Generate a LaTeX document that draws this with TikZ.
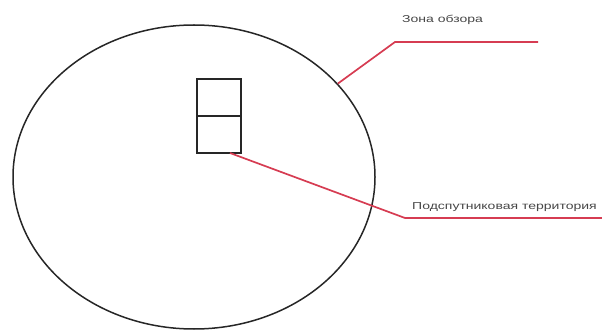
\documentclass[tikz,border=0pt]{standalone}
\usepackage{fontspec}
\setmainfont{Liberation Sans}
\usetikzlibrary{shapes.geometric,positioning}
\definecolor{lineRed}{RGB}{214,60,82}
\definecolor{textGray}{RGB}{70,70,70}

\begin{document}
\begin{tikzpicture}[x=1pt,y=-1pt,every node/.style={font=\fontsize{10}{12}\selectfont}]
\tikzset{zone/.style={draw, ellipse, line width=1.5pt, draw=black!85,
  minimum width=362pt, minimum height=304pt, inner sep=0pt},
  cell/.style={draw, line width=1.5pt, draw=black!85, minimum width=44pt,
  minimum height=37pt, inner sep=0pt, outer sep=0pt},
  leader/.style={draw=lineRed, line width=1.7pt},
  note/.style={text=textGray, inner sep=0pt, anchor=west}}
\useasboundingbox (0,0) rectangle (602,331);
\node[zone] (obzor) at (194,177) {};
\node[cell] (top) at (219,97.5) {};
\node[cell, below=0pt of top] (bottom) {};
\coordinate (bendA) at (395,42);
\coordinate (endA) at (538,42);
\coordinate (bendB) at (405,218);
\coordinate (endB) at (602,218);
\node[note] (labA) at (402,20) {\scalebox{1.4}[1]{Зона обзора}};
\node[note] (labB) at (412,207) {\scalebox{1.4}[1]{Подспутниковая территория}};
\draw[leader] (obzor.33) -- (bendA) -- (endA);
\draw[leader] ([xshift=11pt]bottom.south) -- (bendB) -- (endB);
\end{tikzpicture}
\end{document}
